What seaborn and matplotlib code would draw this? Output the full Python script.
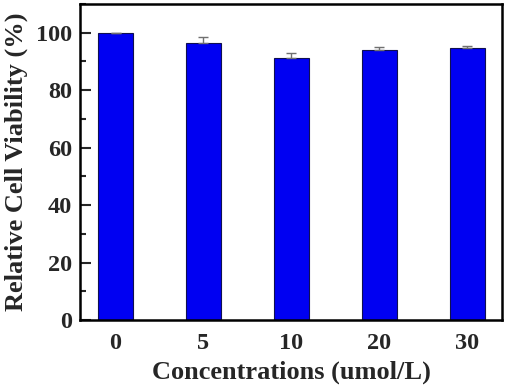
import matplotlib
matplotlib.use("Agg")
import matplotlib.pyplot as plt
import numpy as np
import pandas as pd
import seaborn as sns
from matplotlib.ticker import MultipleLocator

# data
conc = ['0', '5', '10', '20', '30']
viability = [100.0, 96.3, 91.3, 94.0, 94.7]
err = [0.0, 2.1, 1.6, 1.0, 0.7]

df = pd.DataFrame({'conc': conc, 'viab': viability, 'err': err})

sns.set_style("ticks")
plt.rcParams['font.family'] = ['Liberation Serif', 'DejaVu Serif']
plt.rcParams['font.weight'] = 'bold'

fig, ax = plt.subplots(figsize=(5.12, 3.87), dpi=100)
fig.subplots_adjust(left=0.157, right=0.981, top=0.99, bottom=0.173)

sns.barplot(data=df, x='conc', y='viab', color='#0000f2', width=0.4,
            edgecolor='#101050', linewidth=0.8, saturation=1, errorbar=None, ax=ax)
ax.errorbar(np.arange(len(conc)), df['viab'], yerr=[np.zeros(len(err)), df['err']],
            fmt='none', ecolor='#707070', elinewidth=1.0, capsize=3.5, capthick=1.0)

ax.set_xlim(-0.4, 4.4)
ax.set_ylim(0, 110)
ax.yaxis.set_major_locator(MultipleLocator(20))
ax.yaxis.set_minor_locator(MultipleLocator(10))
ax.tick_params(axis='y', which='major', direction='in', length=8, width=1.5, labelsize=17.5, pad=6)
ax.tick_params(axis='y', which='minor', direction='in', length=4, width=1.5)
ax.tick_params(axis='x', length=0, labelsize=17.5, pad=9)
for s in ax.spines.values():
    s.set_linewidth(1.8)
    s.set_color('black')

ax.set_xlabel('Concentrations (umol/L)', fontsize=19, fontweight='bold', labelpad=5)
ax.set_ylabel('Relative Cell Viability (%)', fontsize=19, fontweight='bold', labelpad=6)

plt.savefig('out.png', dpi=100)
